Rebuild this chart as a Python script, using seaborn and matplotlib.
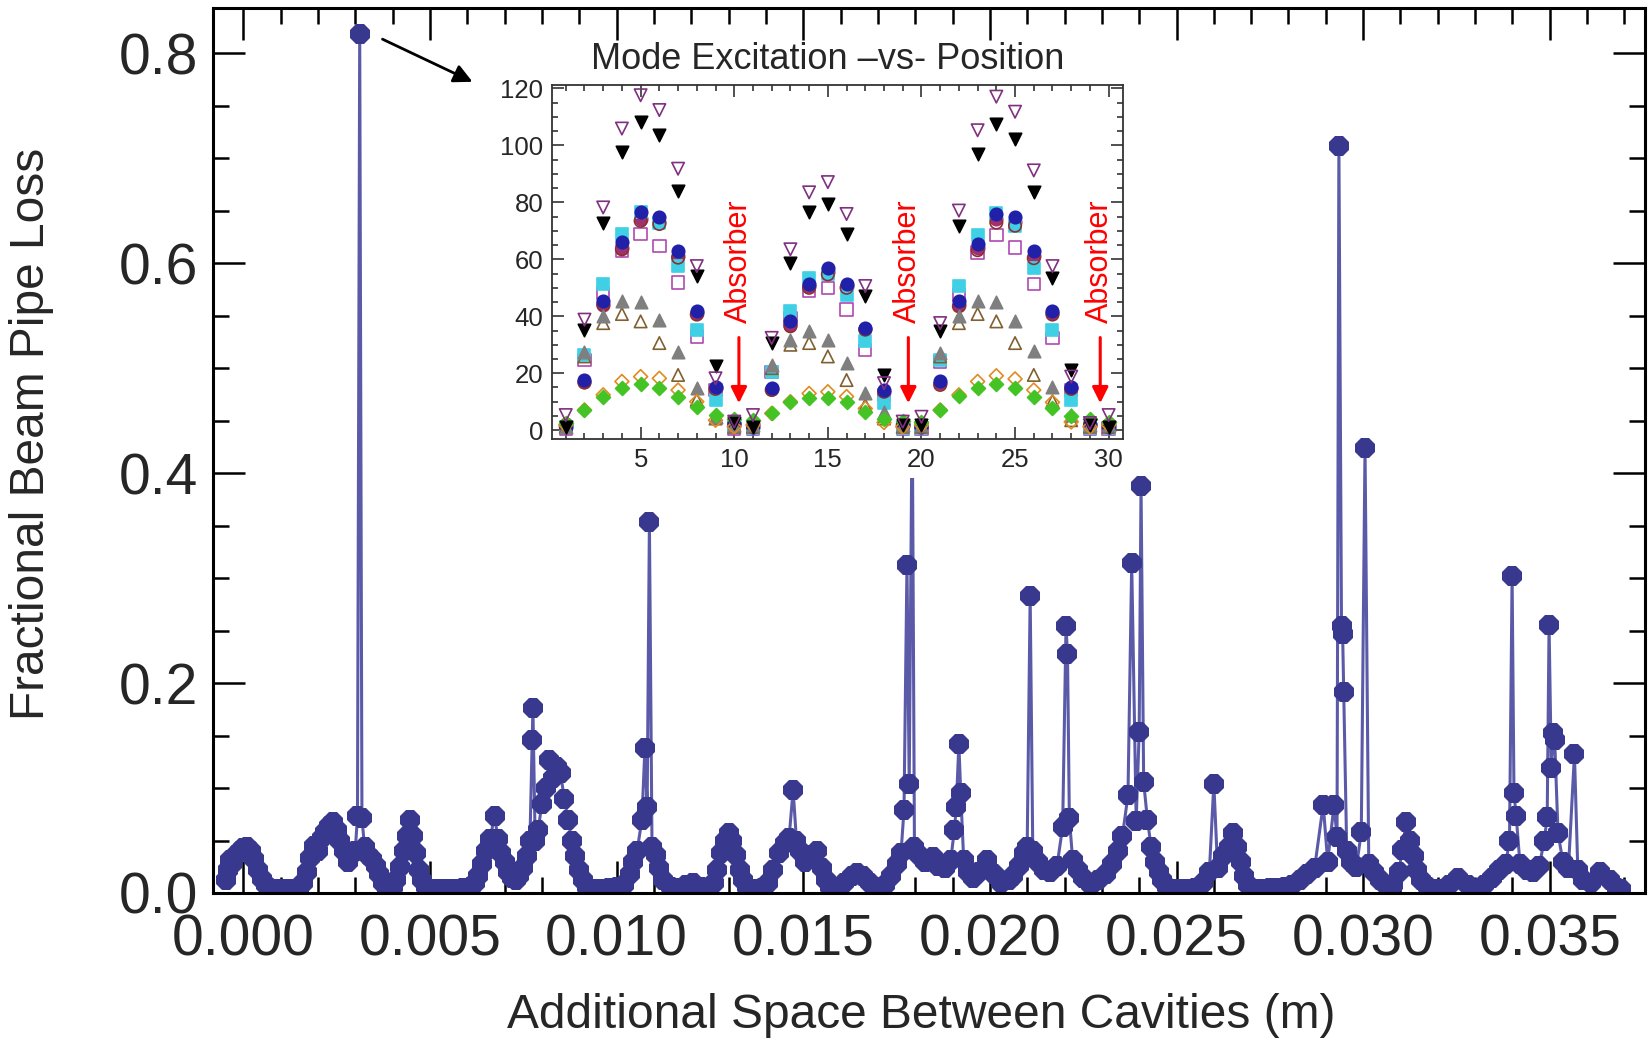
import matplotlib
matplotlib.use("Agg")
import numpy as np
import matplotlib.pyplot as plt
from matplotlib.patches import Rectangle, FancyArrowPatch
from matplotlib.ticker import MultipleLocator, FormatStrFormatter
import seaborn as sns

# main curve: extra space between cavities (mm) and fractional beam pipe loss
spacing_mm = [
    -0.45, -0.40, -0.35, -0.30, -0.20, -0.10, 0.00, 0.10, 0.20, 0.30, 0.40, 0.50, 0.60, 0.70,
    0.90, 1.10, 1.30, 1.50,
    1.60, 1.70, 1.80, 1.90, 2.00, 2.10, 2.20, 2.30, 2.40, 2.50, 2.60, 2.70, 2.80, 2.90, 3.00,
    3.06, 3.12, 3.18, 3.25, 3.35, 3.45, 3.55, 3.65, 3.75, 3.85,
    4.00, 4.10, 4.20, 4.30, 4.40, 4.47, 4.55, 4.62, 4.70, 4.80, 4.90,
    5.10, 5.30, 5.50, 5.70, 5.90, 6.10,
    6.20, 6.30, 6.40, 6.50, 6.60, 6.74, 6.82, 6.90, 7.00, 7.10, 7.20, 7.30,
    7.40, 7.50, 7.60, 7.68, 7.74, 7.76, 7.82, 7.90, 8.00, 8.10, 8.20, 8.30, 8.40, 8.50,
    8.60, 8.70, 8.80, 8.90, 9.00, 9.10, 9.20, 9.40, 9.60, 9.80,
    10.00, 10.20, 10.35, 10.45, 10.55, 10.68, 10.76, 10.82, 10.88, 10.95, 11.05, 11.15, 11.25,
    11.45, 11.65, 11.85, 12.05, 12.25, 12.45,
    12.60, 12.70, 12.80, 12.90, 13.00, 13.10, 13.20, 13.30, 13.40, 13.50, 13.70, 13.90,
    14.05, 14.20, 14.35, 14.50, 14.62, 14.73, 14.82, 14.92, 15.05, 15.20, 15.37, 15.50, 15.60, 15.72,
    15.90, 16.10, 16.30, 16.45, 16.60, 16.80, 17.00,
    17.20, 17.35, 17.50, 17.62, 17.70, 17.78, 17.84, 17.92, 17.98, 18.10, 18.25, 18.48, 18.62,
    18.80, 18.95, 19.05, 19.10, 19.17, 19.22, 19.30, 19.42, 19.55, 19.72, 19.93, 20.10, 20.30, 20.50,
    20.62, 20.78, 20.92, 21.00, 21.08, 21.15, 21.30, 21.45, 21.60,
    21.80, 21.95, 22.04, 22.08, 22.13, 22.22, 22.35, 22.50, 22.70, 22.90,
    23.10, 23.28, 23.42, 23.55, 23.70, 23.80, 23.92, 24.00, 24.05, 24.12, 24.22, 24.32, 24.42,
    24.52, 24.62, 24.75,
    24.90, 25.10, 25.30, 25.50,
    25.70, 25.88, 26.00, 26.10, 26.25, 26.40, 26.52, 26.62, 26.72, 26.82, 26.92,
    27.10, 27.30, 27.50, 27.70, 27.90,
    28.10, 28.30, 28.50, 28.70, 28.93, 29.05, 29.22, 29.30, 29.35, 29.42, 29.45, 29.48, 29.56,
    29.68, 29.82, 29.95, 30.05, 30.15, 30.30, 30.45, 30.60,
    30.80, 30.95, 31.05, 31.15, 31.25, 31.35, 31.45, 31.55, 31.75,
    32.00, 32.30, 32.55, 32.80, 33.05,
    33.25, 33.45, 33.65, 33.82, 33.92, 33.99, 34.04, 34.10, 34.20, 34.38, 34.55,
    34.72, 34.85, 34.93, 34.98, 35.04, 35.09, 35.13, 35.22, 35.35, 35.50, 35.66, 35.75, 35.90,
    36.10, 36.35, 36.60, 36.80, 36.90,
]
beam_loss = [
    0.012, 0.022, 0.031, 0.028, 0.036, 0.040, 0.043, 0.044, 0.040, 0.032, 0.022, 0.013, 0.008, 0.005,
    0.004, 0.004, 0.004, 0.005,
    0.010, 0.020, 0.033, 0.045, 0.040, 0.052, 0.058, 0.064, 0.068, 0.060, 0.050, 0.040, 0.030, 0.036, 0.040,
    0.073, 0.818, 0.071, 0.044, 0.036, 0.032, 0.026, 0.018, 0.010, 0.005,
    0.006, 0.012, 0.025, 0.040, 0.054, 0.070, 0.054, 0.038, 0.022, 0.012, 0.006,
    0.004, 0.004, 0.004, 0.004, 0.005, 0.006,
    0.010, 0.016, 0.028, 0.040, 0.051, 0.073, 0.051, 0.038, 0.030, 0.020, 0.014, 0.012,
    0.016, 0.024, 0.035, 0.050, 0.146, 0.176, 0.050, 0.060, 0.085, 0.100, 0.127, 0.110, 0.120, 0.114,
    0.090, 0.070, 0.050, 0.035, 0.022, 0.012, 0.006, 0.004, 0.004, 0.005,
    0.006, 0.008, 0.018, 0.030, 0.040, 0.070, 0.138, 0.082, 0.353, 0.044, 0.036, 0.024, 0.012,
    0.006, 0.005, 0.008, 0.010, 0.006, 0.005,
    0.010, 0.022, 0.038, 0.050, 0.057, 0.050, 0.036, 0.022, 0.012, 0.006, 0.004, 0.005,
    0.010, 0.022, 0.038, 0.048, 0.052, 0.098, 0.050, 0.040, 0.030, 0.036, 0.040, 0.024, 0.012, 0.006,
    0.005, 0.010, 0.016, 0.019, 0.016, 0.010, 0.005,
    0.008, 0.016, 0.028, 0.038, 0.079, 0.312, 0.104, 0.470, 0.044, 0.036, 0.030, 0.034, 0.026,
    0.024, 0.031, 0.060, 0.082, 0.142, 0.095, 0.031, 0.020, 0.014, 0.020, 0.031, 0.018, 0.010, 0.012,
    0.016, 0.026, 0.038, 0.044, 0.283, 0.040, 0.030, 0.022, 0.020,
    0.026, 0.063, 0.254, 0.228, 0.071, 0.031, 0.022, 0.014, 0.008, 0.012,
    0.018, 0.028, 0.040, 0.054, 0.093, 0.314, 0.069, 0.153, 0.388, 0.106, 0.070, 0.044, 0.030,
    0.020, 0.012, 0.006,
    0.004, 0.004, 0.004, 0.005,
    0.010, 0.020, 0.104, 0.024, 0.035, 0.044, 0.057, 0.044, 0.030, 0.016, 0.008,
    0.004, 0.004, 0.005, 0.005, 0.006,
    0.008, 0.012, 0.018, 0.024, 0.084, 0.030, 0.084, 0.053, 0.712, 0.254, 0.247, 0.191, 0.040,
    0.030, 0.025, 0.058, 0.424, 0.028, 0.020, 0.012, 0.008,
    0.008, 0.020, 0.041, 0.068, 0.050, 0.035, 0.022, 0.012, 0.006,
    0.004, 0.008, 0.014, 0.008, 0.004,
    0.008, 0.014, 0.022, 0.028, 0.050, 0.302, 0.095, 0.073, 0.028, 0.022, 0.020,
    0.026, 0.050, 0.072, 0.255, 0.119, 0.152, 0.146, 0.057, 0.030, 0.024, 0.132, 0.022, 0.012,
    0.010, 0.020, 0.012, 0.005, 0.004,
]

# inset: mode excitation at each cavity position
position = list(range(1, 31))
mode_inv_open = [5.3, 38.8, 78.2, 105.9, 117.6, 112.4, 91.8, 57.6, 18.2, 3.0, 5.3, 32.4, 63.5, 83.5, 87.1,
                 75.9, 50.6, 16.5, 3.0, 4.7, 37.6, 77.1, 105.3, 117.1, 111.8, 91.2, 57.6, 18.8, 2.5, 5.3]
mode_inv_black = [1.2, 35.3, 72.9, 97.6, 108.2, 103.5, 84.1, 54.1, 22.4, 2.4, 1.2, 30.6, 58.8, 76.5, 79.4,
                  68.8, 47.1, 19.4, 1.8, 1.8, 34.7, 71.8, 97.1, 107.6, 102.4, 83.5, 53.5, 21.2, 1.8, 1.2]
mode_circle_navy = [1.2, 17.6, 45.3, 65.9, 76.5, 74.7, 62.9, 41.8, 15.3, 2.4, 1.2, 14.9, 38.2, 51.2, 56.8,
                    51.2, 35.9, 14.1, 1.8, 1.2, 17.1, 45.3, 65.3, 75.9, 74.7, 62.9, 41.8, 15.3, 1.8, 1.2]
mode_circle_open = [1.2, 16.8, 44.1, 63.5, 73.5, 72.4, 60.6, 40.6, 14.5, 1.8, 1.2, 14.1, 36.5, 50.0, 54.7,
                    50.0, 35.3, 13.5, 1.8, 1.2, 15.9, 43.5, 63.2, 72.9, 71.8, 60.4, 40.6, 14.5, 1.8, 1.2]
mode_circle_magenta = [2.0, 17.0, 44.0, 64.0, 74.0, 73.0, 61.0, 41.0, 14.7, 2.0, 2.0, 14.5, 37.0, 50.5, 55.5,
                       50.5, 35.5, 13.5, 2.0, 2.0, 16.5, 44.0, 64.0, 74.0, 73.0, 61.0, 41.0, 14.7, 2.0, 2.0]
mode_square_cyan = [1.2, 26.5, 51.2, 68.8, 76.5, 72.9, 57.6, 35.3, 10.6, 1.2, 0.6, 20.6, 41.8, 53.5, 54.7,
                    47.6, 31.2, 9.4, 0.6, 0.6, 24.7, 50.6, 68.6, 76.1, 71.8, 56.8, 35.3, 10.6, 0.6, 0.6]
mode_square_open = [0.6, 24.7, 48.2, 62.9, 68.8, 64.7, 51.8, 32.9, 14.1, 0.6, 0.6, 20.4, 39.2, 48.8, 50.0,
                    42.4, 28.2, 12.4, 0.6, 0.6, 24.1, 47.6, 62.4, 68.6, 64.1, 51.4, 32.4, 14.1, 0.6, 0.6]
mode_tri_gray = [1.2, 27.6, 40.0, 45.3, 45.1, 38.8, 27.4, 14.7, 4.7, 1.8, 1.8, 22.9, 31.8, 34.7, 31.8,
                 23.5, 13.2, 6.5, 1.8, 1.8, 27.1, 40.0, 45.3, 45.1, 38.5, 27.9, 15.3, 5.3, 1.8, 1.8]
mode_tri_open = [1.2, 25.9, 37.6, 40.8, 38.2, 30.6, 19.4, 10.6, 4.1, 1.2, 1.2, 21.8, 30.0, 30.6, 25.9,
                 17.6, 8.8, 4.1, 1.2, 1.2, 25.9, 37.6, 40.8, 38.2, 30.6, 19.4, 10.2, 3.5, 1.2, 1.2]
mode_diamond_open = [1.8, 7.1, 12.4, 17.1, 18.8, 18.2, 14.1, 10.0, 3.5, 1.2, 1.8, 5.9, 10.0, 12.9, 13.5,
                     11.8, 7.6, 2.7, 1.2, 1.8, 7.1, 12.4, 17.1, 19.1, 18.0, 14.1, 9.8, 2.9, 1.2, 1.8]
mode_diamond_green = [2.4, 7.1, 11.8, 14.9, 16.1, 14.9, 11.8, 8.2, 5.3, 4.1, 3.5, 5.9, 9.8, 11.4, 11.4,
                      10.0, 6.5, 4.1, 3.2, 2.9, 7.1, 12.1, 14.7, 16.1, 14.9, 11.8, 7.9, 5.1, 4.1, 2.9]

absorber_pos = [10.25, 19.3, 29.55]

sns.set_theme(style="ticks")
plt.rcParams['font.family'] = ['Liberation Sans', 'DejaVu Sans']

W, H = 1650, 1041
fig = plt.figure(figsize=(W / 100, H / 100), dpi=100)
fig.patch.set_facecolor('white')

# ---- main plot
ax = fig.add_axes([213 / W, 1 - 893 / H, 1432 / W, 885 / H])
spacing_m = np.array(spacing_mm) / 1000.0
sns.lineplot(x=spacing_m, y=beam_loss, ax=ax, estimator=None, sort=False,
             color='#5a5aa8', linewidth=2.2, marker='8', markersize=16,
             markerfacecolor='#38388f', markeredgecolor='#38388f', markeredgewidth=0)

ax.set_xlim(-0.00081, 0.03755)
ax.set_ylim(0, 0.843)
ax.xaxis.set_major_locator(MultipleLocator(0.005))
ax.xaxis.set_minor_locator(MultipleLocator(0.001))
ax.xaxis.set_major_formatter(FormatStrFormatter('%.3f'))
ax.yaxis.set_major_locator(MultipleLocator(0.2))
ax.yaxis.set_minor_locator(MultipleLocator(0.05))
ax.yaxis.set_major_formatter(FormatStrFormatter('%.1f'))
ax.tick_params(which='both', direction='in', top=True, right=True, bottom=True, left=True,
               width=1.8, color='black')
ax.tick_params(which='major', length=23, labelsize=41)
ax.tick_params(which='minor', length=11.5)
ax.tick_params(axis='x', pad=15)
ax.tick_params(axis='y', pad=11)
for s in ax.spines.values():
    s.set_linewidth(2.2)
    s.set_color('black')
ax.set_xlabel('')
ax.set_ylabel('')

fig.text(921 / W, 1 - 1016 / H, 'Additional Space Between Cavities (m)',
         ha='center', va='center', fontsize=34.5)
fig.text(32 / W, 1 - 434 / H, 'Fractional Beam Pipe Loss', rotation=90,
         ha='center', va='center', fontsize=34.5)

# white backing behind the inset picture
fig.add_artist(Rectangle((490 / W, 1 - 478 / H), (1135 - 490) / W, (478 - 80) / H,
                         transform=fig.transFigure, facecolor='white', edgecolor='none', zorder=1))

# arrow from the highest point to the inset
fig.add_artist(FancyArrowPatch((380 / W, 1 - 38 / H), (475 / W, 1 - 83 / H),
                               transform=fig.transFigure, arrowstyle='-|>', mutation_scale=28,
                               color='black', linewidth=2, zorder=5))

# ---- inset
axi = fig.add_axes([551.7 / W, 1 - 439.3 / H, 571 / W, 354.3 / H], zorder=2)
axi.set_facecolor('white')

series = [
    (mode_circle_magenta, 'o', '#a0306e', '#a0306e'),
    (mode_square_open, 's', 'none', '#b048b0'),
    (mode_square_cyan, 's', '#40d0e6', '#40d0e6'),
    (mode_circle_open, 'o', 'none', '#8b3030'),
    (mode_circle_navy, 'o', '#2020a8', '#2020a8'),
    (mode_tri_open, '^', 'none', '#806030'),
    (mode_tri_gray, '^', '#7f7f7f', '#7f7f7f'),
    (mode_diamond_open, 'D', 'none', '#e08a20'),
    (mode_diamond_green, 'D', '#44c424', '#44c424'),
    (mode_inv_black, 'v', '#000000', '#000000'),
    (mode_inv_open, 'v', 'none', '#803080'),
]
for vals, mk, fc, ec in series:
    sz = 50 if mk == 'D' else 80
    sns.scatterplot(x=position, y=vals, ax=axi, marker=mk, s=sz,
                    facecolor=fc, edgecolor=ec, linewidth=1.2)

axi.set_xlim(0.25, 30.75)
axi.set_ylim(-3.2, 121.2)
axi.xaxis.set_major_locator(MultipleLocator(5))
axi.xaxis.set_minor_locator(MultipleLocator(1))
axi.yaxis.set_major_locator(MultipleLocator(20))
axi.yaxis.set_minor_locator(MultipleLocator(5))
axi.tick_params(which='both', direction='in', top=True, right=True, bottom=True, left=True,
                width=1.1, color='#222222')
axi.tick_params(which='major', length=8.5, labelsize=18.5, pad=6)
axi.tick_params(which='minor', length=4.3)
for s in axi.spines.values():
    s.set_linewidth(1.3)
    s.set_color('#333333')
axi.set_xlabel('')
axi.set_ylabel('')

for xp in absorber_pos:
    axi.text(xp, 59.5, 'Absorber', rotation=90, color='red', fontsize=22,
             ha='center', va='center')
    axi.annotate('', xy=(xp, 8.5), xytext=(xp, 33.5),
                 arrowprops=dict(arrowstyle='-|>', color='red', lw=2.2, mutation_scale=24))

fig.text(828 / W, 1 - 69 / H, 'Mode Excitation \u2013vs- Position', ha='center', va='baseline',
         fontsize=26)

fig.savefig('out.png', dpi=100, facecolor='white')
